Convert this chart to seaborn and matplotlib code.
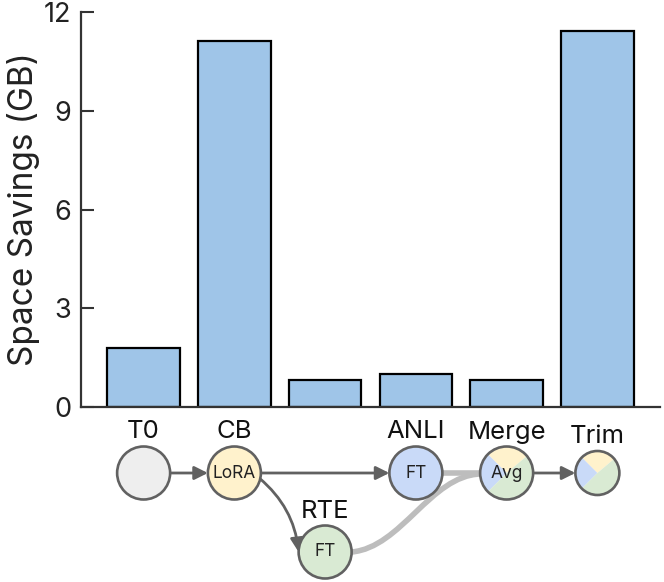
import matplotlib
matplotlib.use("Agg")
import matplotlib.pyplot as plt
import matplotlib.patches as mpatches
from matplotlib.path import Path
import pandas as pd
import seaborn as sns


# bar data: one bar per step of the model lineage
steps = ["T0", "CB", "RTE", "ANLI", "Merge", "Trim"]
savings_gb = [1.8, 11.12, 0.82, 1.0, 0.82, 11.42]
y_ticks = [0, 3, 6, 9, 12]

# diagram nodes: label, inner text, row (0 = top, 1 = lower)
node_inner = ["", "LoRA", "FT", "FT", "Avg", ""]
node_row = [0, 0, 1, 0, 0, 0]
node_fill = ["#eeeeee", "#fff2cc", "#d9ead3", "#c9daf8", None, None]
pie_colors = ["#fff2cc", "#c9daf8", "#d9ead3"]
pie_angles = [(40, 135), (135, 225), (225, 400)]

BAR_COLOR = "#9fc5e8"
NODE_EDGE = "#616161"
MERGE_LINE = "#bdbdbd"

W, H = 664, 582
AX_L, AX_R, AX_B, AX_T = 81, 660, 407, 12

sns.set_theme(style="ticks")
plt.rcParams["font.family"] = ["Inter", "DejaVu Sans"]

fig = plt.figure(figsize=(W / 100, H / 100), dpi=100)
ax = fig.add_axes([AX_L / W, (H - AX_B) / H, (AX_R - AX_L) / W, (AX_B - AX_T) / H])

frame = pd.DataFrame({"step": steps, "savings": savings_gb})
sns.barplot(data=frame, x="step", y="savings", color=BAR_COLOR, saturation=1,
            width=0.8, edgecolor="black", linewidth=1.6, ax=ax)

xlim = (-0.69, len(steps) - 1 + 0.69)
ax.set_xlim(*xlim)
ax.set_ylim(0, 12)
ax.set_yticks(y_ticks)
ax.set_xticks([])
ax.set_xlabel("")
ax.set_ylabel("Space Savings (GB)", fontsize=24, color="#222222", labelpad=3)
ax.tick_params(axis="y", direction="in", length=9, width=1.5, labelsize=19.5,
               colors="#333333", labelcolor="#222222", pad=7)
for side in ["top", "right"]:
    ax.spines[side].set_visible(False)
for side in ["left", "bottom"]:
    ax.spines[side].set_linewidth(1.6)
    ax.spines[side].set_color("#333333")

# diagram axes under the bars, same x scale, equal aspect
dax = fig.add_axes([AX_L / W, 0, (AX_R - AX_L) / W, (H - AX_B) / H])
ppu = (AX_R - AX_L) / (xlim[1] - xlim[0])
dax.set_xlim(*xlim)
dax.set_ylim(-(H - AX_B) / ppu, 0)
dax.axis("off")

row_y = [-66 / ppu, -145 / ppu]
r_big = 26.5 / ppu
r_small = 22 / ppu

pos = [(i, row_y[row]) for i, row in enumerate(node_row)]
radius = [r_big, r_big, r_big, r_big, r_big, r_small]

for i, (x, y) in enumerate(pos):
    r = radius[i]
    if node_fill[i] is not None:
        dax.add_patch(mpatches.Circle((x, y), r, facecolor=node_fill[i], edgecolor="none", zorder=3))
    else:
        for col, (a0, a1) in zip(pie_colors, pie_angles):
            dax.add_patch(mpatches.Wedge((x, y), r, a0, a1, facecolor=col, edgecolor="none", zorder=3))
    dax.add_patch(mpatches.Circle((x, y), r, facecolor="none", edgecolor=NODE_EDGE, lw=1.9, zorder=4))
    if node_inner[i]:
        dax.text(x, y, node_inner[i], ha="center", va="center", fontsize=12.5, color="#222222", zorder=5)
    dax.text(x, y + r + 8 / ppu, steps[i], ha="center", va="baseline", fontsize=18.5, color="#111111")


def arrow(p0, p1, rad=0.0):
    dax.annotate("", xy=p1, xytext=p0,
                 arrowprops=dict(arrowstyle="-|>", color=NODE_EDGE, lw=2.0, mutation_scale=20,
                                 shrinkA=0, shrinkB=0, connectionstyle=f"arc3,rad={rad}"),
                 zorder=2)


# T0 -> CB, CB -> ANLI, Merge -> Trim
arrow((pos[0][0] + r_big, pos[0][1]), (pos[1][0] - r_big, pos[1][1]))
arrow((pos[1][0] + r_big, pos[1][1]), (pos[3][0] - r_big, pos[3][1]))
arrow((pos[4][0] + r_big, pos[4][1]), (pos[5][0] - r_small, pos[5][1]))
# CB -> RTE (curved)
arrow((pos[1][0] + 0.95 * r_big, pos[1][1] - 0.2 * r_big),
      (pos[2][0] - r_big, pos[2][1]), rad=-0.2)

# thick grey merge lines into Merge
dax.plot([pos[3][0] + r_big, pos[4][0] - r_big], [pos[3][1], pos[4][1]],
         color=MERGE_LINE, lw=4, solid_capstyle="butt", zorder=1)
x0, y0 = pos[2][0] + r_big, pos[2][1]
x3, y3 = pos[4][0] - r_big, pos[4][1] - 1 / ppu
verts = [(x0, y0), (x0 + 0.55, y0 + 0.05), (x3 - 0.55, y3 - 0.02), (x3, y3)]
curve = Path(verts, [Path.MOVETO, Path.CURVE4, Path.CURVE4, Path.CURVE4])
dax.add_patch(mpatches.PathPatch(curve, facecolor="none", edgecolor=MERGE_LINE, lw=4, zorder=1))

fig.savefig("out.png", dpi=100)
